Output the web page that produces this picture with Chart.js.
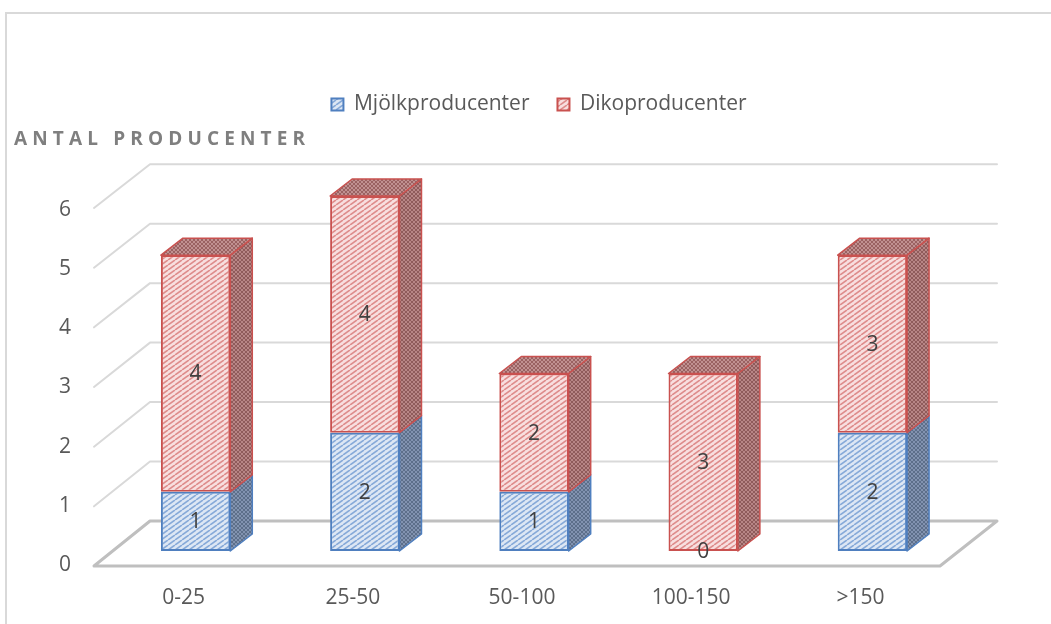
<!DOCTYPE html>
<html>
<head>
<meta charset="utf-8">
<script src="https://cdn.jsdelivr.net/npm/chart.js@4.4.1/dist/chart.umd.min.js"></script>
<style>
  html, body { margin: 0; padding: 0; background: #fff; }
  canvas { display: block; }
</style>
</head>
<body>
<canvas id="prodChart" width="1051" height="624"></canvas>
<script>
const categories = ["0-25", "25-50", "50-100", "100-150", ">150"];
const mjolkValues = [1, 2, 1, 0, 2];
const dikoValues = [4, 4, 2, 3, 3];
const yTicks = [0, 1, 2, 3, 4, 5, 6];
const seriesNames = ["Mjölkproducenter", "Dikoproducenter"];
const axisTitle = "ANTAL PRODUCENTER";

const FONT = "'Open Sans', 'Noto Sans', sans-serif";
const TEXT_SIZE = 21;
const canvas = document.getElementById("prodChart");
const ctx2d = canvas.getContext("2d");

// diagonal "/" stripes for the front faces
function stripePattern(bg, fg) {
  const c = document.createElement("canvas");
  c.width = 7; c.height = 5;
  const g = c.getContext("2d");
  g.fillStyle = bg;
  g.fillRect(0, 0, 7, 5);
  g.strokeStyle = fg;
  g.lineWidth = 1.6;
  [-7, 0, 7].forEach(dx => {
    g.beginPath();
    g.moveTo(dx, 5);
    g.lineTo(dx + 7, 0);
    g.stroke();
  });
  return ctx2d.createPattern(c, "repeat");
}

// fine cross mesh for the shaded sides and tops
function meshPattern(bg, fg) {
  const c = document.createElement("canvas");
  c.width = 4; c.height = 4;
  const g = c.getContext("2d");
  g.fillStyle = bg;
  g.fillRect(0, 0, 4, 4);
  g.strokeStyle = fg;
  g.lineWidth = 0.8;
  [-4, 0, 4].forEach(dx => {
    g.beginPath(); g.moveTo(dx, 4); g.lineTo(dx + 4, 0); g.stroke();
    g.beginPath(); g.moveTo(dx, 0); g.lineTo(dx + 4, 4); g.stroke();
  });
  return ctx2d.createPattern(c, "repeat");
}

const blueLine = "#4f7fbf";
const redLine = "#c9514f";
const blueFront = stripePattern("#dde7f4", "#86a9d8");
const redFront = stripePattern("#f8dfdf", "#de8c8b");
const blueSide = meshPattern("#5d6f8a", "#8c9dba");
const redSide = meshPattern("#8f5b5b", "#c39292");
const redTop = meshPattern("#9a6262", "#cc9d9d");
const sideFill = [blueSide, redSide];
const topFill = [blueSide, redTop];

const DX = 22, DY = -17; // bar depth

const frame = {
  id: "frame",
  beforeDraw(chart) {
    const ctx = chart.ctx;
    ctx.save();
    ctx.strokeStyle = "#d9d9d9";
    ctx.lineWidth = 2;
    ctx.strokeRect(6, 13, 1200, 800);
    ctx.restore();
  }
};

const depth3d = {
  id: "depth3d",
  beforeLayout(chart) {
    if (chart.legend && !chart.legend._gapPatched) {
      const fit = chart.legend.fit;
      chart.legend.fit = function () {
        fit.call(this);
        this.height = 130;
      };
      chart.legend._gapPatched = true;
    }
  },
  beforeDatasetsDraw(chart) {
    const { ctx, chartArea: a, scales: { y } } = chart;
    const front = v => y.getPixelForValue(v) + 15 - v * 0.5;
    const back = v => y.getPixelForValue(v) - 30 - v * 0.3;
    const fl = a.left - 17, fr = a.right - 17, bl = a.left + 39, br = a.right + 40;
    ctx.save();
    ctx.lineCap = "round";
    ctx.lineJoin = "round";
    ctx.strokeStyle = "#d9d9d9";
    ctx.lineWidth = 2;
    yTicks.filter(v => v > 0).forEach(v => {
      ctx.beginPath();
      ctx.moveTo(fl, front(v));
      ctx.lineTo(bl, back(v));
      ctx.lineTo(br, back(v));
      ctx.stroke();
    });
    // floor
    ctx.strokeStyle = "#bfbfbf";
    ctx.lineWidth = 3;
    ctx.beginPath();
    ctx.moveTo(fl, front(0));
    ctx.lineTo(bl, back(0));
    ctx.lineTo(br, back(0));
    ctx.lineTo(fr, front(0));
    ctx.closePath();
    ctx.stroke();
    ctx.restore();
  },
  afterDatasetsDraw(chart) {
    const ctx = chart.ctx;
    const metas = [0, 1].map(i => chart.getDatasetMeta(i));
    ctx.save();
    ctx.lineJoin = "round";
    ctx.lineWidth = 1.5;
    // side faces
    metas.forEach((meta, di) => {
      const vals = chart.data.datasets[di].data;
      meta.data.forEach((bar, j) => {
        if (!vals[j]) return;
        const { x, y, base, width } = bar.getProps(["x", "y", "base", "width"], true);
        const xr = x + width / 2;
        ctx.beginPath();
        ctx.moveTo(xr, y);
        ctx.lineTo(xr + DX, y + DY);
        ctx.lineTo(xr + DX, base + DY);
        ctx.lineTo(xr, base);
        ctx.closePath();
        ctx.fillStyle = sideFill[di];
        ctx.fill();
        ctx.strokeStyle = chart.data.datasets[di].borderColor;
        ctx.stroke();
      });
    });
    // top face on the highest segment of each stack
    categories.forEach((c, j) => {
      for (let di = metas.length - 1; di >= 0; di--) {
        if (!chart.data.datasets[di].data[j]) continue;
        const { x, y, width } = metas[di].data[j].getProps(["x", "y", "width"], true);
        const xl = x - width / 2, xr = x + width / 2;
        ctx.beginPath();
        ctx.moveTo(xl, y);
        ctx.lineTo(xl + DX, y + DY);
        ctx.lineTo(xr + DX, y + DY);
        ctx.lineTo(xr, y);
        ctx.closePath();
        ctx.fillStyle = topFill[di];
        ctx.fill();
        ctx.strokeStyle = chart.data.datasets[di].borderColor;
        ctx.stroke();
        break;
      }
    });
    // value labels
    ctx.font = TEXT_SIZE + "px " + FONT;
    ctx.fillStyle = "#404040";
    ctx.textAlign = "center";
    ctx.textBaseline = "middle";
    metas.forEach((meta, di) => {
      meta.data.forEach((bar, j) => {
        const { x, y, base } = bar.getProps(["x", "y", "base"], true);
        ctx.fillText(String(chart.data.datasets[di].data[j]), x, (y + base) / 2 + 1);
      });
    });
    // axis title, letter-spaced
    ctx.font = "bold 19px " + FONT;
    ctx.fillStyle = "#7f7f7f";
    ctx.textAlign = "left";
    ctx.letterSpacing = "0px";
    const w0 = ctx.measureText(axisTitle).width;
    ctx.letterSpacing = ((291 - w0) / (axisTitle.length - 1)).toFixed(2) + "px";
    ctx.fillText(axisTitle, 14, 140);
    ctx.restore();
  }
};

new Chart(canvas, {
  type: "bar",
  data: {
    labels: categories,
    datasets: [
      {
        label: seriesNames[0],
        data: mjolkValues,
        backgroundColor: blueFront,
        borderColor: blueLine,
        borderWidth: 2,
        borderSkipped: false
      },
      {
        label: seriesNames[1],
        data: dikoValues,
        backgroundColor: redFront,
        borderColor: redLine,
        borderWidth: 2,
        borderSkipped: false
      }
    ]
  },
  options: {
    responsive: false,
    animation: false,
    layout: { padding: { top: 66, left: 27, right: 0, bottom: 0 } },
    barPercentage: 0.41,
    categoryPercentage: 1,
    plugins: {
      legend: {
        position: "top",
        labels: {
          boxWidth: 12,
          boxHeight: 12,
          padding: 28,
          color: "#595959",
          font: { family: FONT, size: TEXT_SIZE }
        }
      },
      tooltip: { enabled: false }
    },
    scales: {
      x: {
        stacked: true,
        grid: { display: false },
        border: { display: false },
        ticks: {
          color: "#595959",
          font: { family: FONT, size: TEXT_SIZE },
          padding: 26,
          labelOffset: -12
        },
        afterFit(s) { s.height = 73; }
      },
      y: {
        stacked: true,
        min: 0,
        max: 6,
        grid: { display: false, drawTicks: false },
        border: { display: false },
        ticks: {
          stepSize: 1,
          color: "#595959",
          font: { family: FONT, size: TEXT_SIZE },
          padding: 40,
          labelOffset: 14
        },
        afterFit(s) { s.width = 84; }
      },
      yr: {
        position: "right",
        grid: { display: false },
        border: { display: false },
        ticks: { display: false },
        afterFit(s) { s.width = 94; }
      }
    }
  },
  plugins: [frame, depth3d]
});
</script>
</body>
</html>
